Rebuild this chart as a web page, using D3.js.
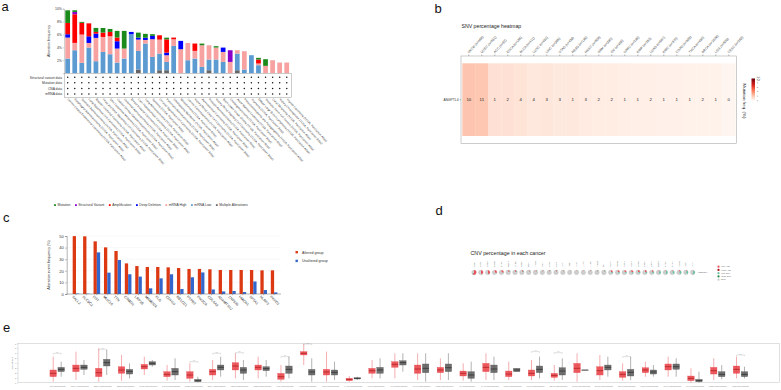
<!DOCTYPE html>
<html>
<head>
<meta charset="utf-8">
<script src="https://cdn.jsdelivr.net/npm/d3@7"></script>
<style>
  body { margin: 0; background: #fff; }
  svg { font-family: "Liberation Sans", Arial, sans-serif; }
</style>
</head>
<body>
<svg id="fig" width="781" height="390"></svg>
<script>
// ---------- panel a : alteration frequency across studies ----------
const studies = [
  "Uterine Corpus Endometrial Carcinoma (TCGA, PanCancer Atlas)",
  "Esophageal Adenocarcinoma (TCGA, PanCancer Atlas)",
  "Stomach Adenocarcinoma (TCGA, PanCancer Atlas)",
  "Lung Squamous Cell Carcinoma (TCGA, PanCancer Atlas)",
  "Bladder Urothelial Carcinoma (TCGA, PanCancer Atlas)",
  "Head and Neck Squamous Cell Carcinoma (TCGA, PanCancer Atlas)",
  "Skin Cutaneous Melanoma (TCGA, PanCancer Atlas)",
  "Ovarian Serous Cystadenocarcinoma (TCGA, PanCancer Atlas)",
  "Colorectal Adenocarcinoma (TCGA, PanCancer Atlas)",
  "Breast Invasive Carcinoma (TCGA, PanCancer Atlas)",
  "Liver Hepatocellular Carcinoma (TCGA, PanCancer Atlas)",
  "Lung Adenocarcinoma (TCGA, PanCancer Atlas)",
  "Sarcoma (TCGA, PanCancer Atlas)",
  "Cervical Squamous Cell Carcinoma (TCGA, PanCancer Atlas)",
  "Pancreatic Adenocarcinoma (TCGA, PanCancer Atlas)",
  "Glioblastoma Multiforme (TCGA, PanCancer Atlas)",
  "Mesothelioma (TCGA, PanCancer Atlas)",
  "Uterine Carcinosarcoma (TCGA, PanCancer Atlas)",
  "Kidney Renal Clear Cell Carcinoma (TCGA, PanCancer Atlas)",
  "Adrenocortical Carcinoma (TCGA, PanCancer Atlas)",
  "Prostate Adenocarcinoma (TCGA, PanCancer Atlas)",
  "Kidney Renal Papillary Cell Carcinoma (TCGA, PanCancer Atlas)",
  "Brain Lower Grade Glioma (TCGA, PanCancer Atlas)",
  "Cholangiocarcinoma (TCGA, PanCancer Atlas)",
  "Acute Myeloid Leukemia (TCGA, PanCancer Atlas)",
  "Pheochromocytoma and Paraganglioma (TCGA, PanCancer Atlas)",
  "Thymoma (TCGA, PanCancer Atlas)",
  "Diffuse Large B-Cell Lymphoma (TCGA, PanCancer Atlas)",
  "Testicular Germ Cell Tumors (TCGA, PanCancer Atlas)",
  "Uveal Melanoma (TCGA, PanCancer Atlas)",
  "Kidney Chromophobe (TCGA, PanCancer Atlas)",
  "Thyroid Carcinoma (TCGA, PanCancer Atlas)"
];
const multipleAlt  = [0,0,0,0,0,0,0,0,0,0,0.57,0,0,0.46,0.46,0,0,0,0,0,0.46,0,0,0,0.46,0,0,0,0,0,0,0];
const mrnaLow      = [2.27,3.56,1.6,3.97,1.86,3.3,2.94,1.65,2.27,6.04,2.89,4.6,2.53,2.58,1.29,4.23,0,2.01,2.27,0.98,1.65,2.12,1.75,0,2.58,0.57,2.79,1.24,0,0,0,0];
const mrnaHigh     = [3.25,1.14,4.39,0.72,3.61,2.32,2.79,2.17,1.55,0,1.75,0.55,2.74,2.17,1.03,1.03,3.72,2.68,1.19,3.35,2.22,1.86,1.55,1.75,0.52,2.84,0,0.26,1.14,2.01,1.65,1.65];
const deepDeletion = [0.52,0,0,1.03,0.67,0,0,1.14,0,0.36,0.31,0.35,0.52,0,0.41,0,1.29,0,0,0,0,0,0.67,0,0,0,0,0,0,0,0,0];
const amplification= [1.75,4.44,1.81,2.01,0.26,0.67,0.67,0.57,0,0,0,0,0,0.67,2.06,0.26,0,0,1.14,0,0,0,0,0,0,0,0,0.62,0,0,0,0];
const structural   = [0,0.36,0,0,0,0,0,0,0,0,0,0,0,0,0,0,0,0,0,0,0,0,0,1.81,0,0,0,0,0,0,0,0];
const mutation     = [1.96,0.26,0.15,0,0.62,0.72,0.46,1.03,2.74,0,0.77,0.6,0.26,0,0.26,0,0,0,0,0.26,0,0.21,0,0,0,0,0,0.26,1.03,0,0,0];
const aTicks = [2, 4, 6, 8, 10];
const dataRows = ["Structural variant data", "Mutation data", "CNA data", "mRNA data"];
const aLegend = ["Mutation", "Structural Variant", "Amplification", "Deep Deletion", "mRNA High", "mRNA Low", "Multiple Alterations"];

// ---------- panel b : SNV percentage heatmap ----------
const snvCancers = ["SKCM","UCEC","ACC","ESCA","BLCA","LUSC","LIHC","STAD","READ","HNSC","GBM",
                    "OV","SARC","KIRP","LUAD","KIRC","COAD","THCA","BRCA","LGG","CESC"];
const snvN      = [468,531,92,185,411,492,365,439,136,508,390,409,236,282,567,370,399,490,1026,509,289];
const snvCount  = [10,11,1,2,4,4,3,3,1,3,2,2,1,1,2,1,1,1,2,1,0];
const snvTicks  = [0, 2, 4, 6, 8, 10];

// ---------- panel c : altered vs unaltered group ----------
const genes     = ["SALL2","SLC9C2","DST","MUC16","TTN","CSMD3","LRP1B","MAMDC4","FLG","CDH10",
                   "RB1CC1","PTPRT","PIK3CA","COL6A3","ADAMTS12","ZNF536","HMCN1","SPTA1","NLRP3","PKHD1"];
const altered   = [49.9,49.7,45.4,40.2,37.1,26.4,24.1,23.3,23.3,23.0,22.4,21.6,21.6,21.3,20.7,20.7,20.7,20.7,20.4,20.4];
const unaltered = [0.4,0.3,35.9,18.4,29.3,17.0,15.0,4.9,13.5,17.0,4.3,14.4,18.6,3.9,2.2,2.6,1.7,10.8,3.4,1.4];
const cTicks    = [0, 10, 20, 30, 40, 50];

// ---------- panel d : CNV pies ----------
const cnvCancers = ["ACC","BLCA","BRCA","CESC","CHOL","COAD","DLBC","ESCA","GBM","HNSC","KICH","KIRC","KIRP",
                    "LAML","LGG","LIHC","LUAD","LUSC","MESO","OV","PAAD","PCPG","PRAD","READ","SARC","SKCM",
                    "STAD","TGCT","THCA","THYM","UCEC","UCS","UVM"];
const heteAmp = [55,42,40,28,26,14,12,12,10,10,8,8,8,8,7,7,6,6,6,8,20,22,20,22,18,18,16,10,8,6,10,8,6];
const homoAmp = [5,3,3,2,2,1,1,1,1,1,1,1,0,0,0,0,0,1,0,0,1,1,1,1,1,1,1,0,0,0,0,0,0];
const heteDel = [6,5,6,5,6,8,8,8,8,6,6,6,6,6,6,6,6,6,8,10,12,12,14,14,16,16,18,30,32,32,30,30,34];
const homoDel = [1,0,1,0,0,0,1,0,0,0,0,0,0,0,0,0,0,0,0,0,1,1,1,1,1,1,2,2,3,2,2,2,4];
const cnvLegend = ["Hete. Amp", "Homo. Amp", "Hete. Dele", "Homo. Dele", "None"];

// ---------- panel e : expression tumour vs normal ----------
const exprCancers = ["ACC","BLCA","BRCA","CESC","CHOL","COAD","DLBC","ESCA","GBM","HNSC","KICH","KIRC","KIRP",
                     "LAML","LGG","LIHC","LUAD","LUSC","OV","PAAD","PCPG","PRAD","READ","SARC","SKCM","STAD",
                     "TGCT","THCA","THYM","UCEC","UCS"];
const tMin = [0.2,0.54,0.2,0.41,1.56,0.41,0.2,0.54,0.88,0.88,0.2,3.59,0.2,0.2,0.88,0.88,0.54,0.54,0.41,0.54,0.54,0.54,0.41,0.2,0.54,0.41,1.22,1.22,0.07,0.54,0.88];
const tQ1  = [1.22,2.24,1.22,1.9,2.78,1.22,0.88,1.56,2.58,2.58,0.68,5.63,1.56,0.41,1.9,3.12,1.9,2.03,1.36,2.24,1.22,1.36,1.08,2.03,1.56,1.08,2.03,2.58,0.41,1.76,1.9];
const tMed = [1.9,2.92,2.03,2.58,3.25,1.69,1.56,2.24,3.39,3.12,1.22,5.97,2.17,0.68,2.44,3.73,2.78,2.58,1.9,3.12,1.76,1.9,1.49,2.92,2.44,1.69,2.58,3.25,0.88,2.44,2.71];
const tQ3  = [2.58,3.59,2.92,3.25,3.73,2.24,2.24,2.71,4.07,3.59,1.9,6.31,2.71,0.88,2.92,4.27,3.59,3.12,2.37,3.93,2.37,2.58,1.9,3.93,3.25,2.24,3.05,3.8,1.36,3.12,3.39];
const tMax = [5.29,6.31,6.98,5.63,5.29,3.59,3.93,4.61,5.97,5.29,3.59,7.9,6.31,1.36,4.61,5.97,5.97,4.95,3.93,5.97,4.27,4.61,3.59,5.97,5.63,3.93,4.27,5.29,2.92,4.95,5.29];
const nMin = [1.22,1.56,1.56,0.88,3.25,0.54,0.07,1.22,0.54,1.22,0.88,0.2,0.54,0.54,0.88,2.24,0.2,0.54,0.2,0.54,2.24,0.88,0.54,2.58,1.22,0.54,1.22,1.22,0,0.68,0.88];
const nQ1  = [2.24,2.71,3.39,1.76,3.59,1.56,0.2,2.58,1.9,2.44,1.9,1.56,1.56,0.75,1.9,3.59,2.03,2.24,0.88,2.03,2.24,2.03,1.56,2.58,2.58,1.36,1.76,2.71,0.2,1.22,1.22];
const nMed = [2.71,3.12,4.07,2.31,3.93,2.24,0.41,3.12,2.58,2.85,2.71,2.17,2.1,0.88,2.58,4.07,2.92,3.05,1.56,2.78,2.58,2.71,2.37,2.58,3.12,2.1,2.17,3.25,0.41,1.69,1.69];
const nQ3  = [3.12,3.59,4.75,2.71,4.27,2.92,0.68,3.59,3.12,3.25,3.39,2.71,2.58,1.02,3.12,4.47,3.8,3.8,2.24,3.59,2.92,3.39,3.05,2.58,3.59,2.71,2.58,3.8,0.68,2.24,2.24];
const nMax = [4.27,4.61,6.64,3.93,4.61,4.95,1.22,5.29,4.61,4.61,5.29,4.95,4.27,1.22,4.95,5.97,5.97,5.97,4.27,5.29,2.92,5.29,4.95,2.58,5.29,5.29,3.59,4.95,2.24,3.59,3.25];
const sigCancers = ["ACC","BRCA","DLBC","ESCA","GBM","KICH","KIRC","PRAD","READ","STAD","UCS"];
const sigLevel   = [5.97,6.78,4.27,5.97,6.10,5.29,7.86,6.31,6.10,5.29,5.63];
const eTicks = [0, 1, 2, 3, 4, 5, 6, 7, 8];

const svg = d3.select("#fig");
const ink = "#333";

// panel letters
[["a", 1.5, 10.5], ["b", 434.5, 12.5], ["c", 3, 221.5], ["d", 435.5, 215], ["e", 3, 331.5]]
  .forEach(([t, x, y]) => svg.append("text").attr("x", x).attr("y", y)
    .attr("font-size", 13).attr("fill", "#111").text(t));

// ================= panel a =================
{
  const g = svg.append("g");
  const colors = {
    mutation: "#1a8a1a", structural: "#8b00c9", amplification: "#ff0000",
    deepDeletion: "#0000ff", mrnaHigh: "#f7a1a1", mrnaLow: "#5c9bd1", multipleAlt: "#666666"
  };
  const keys = ["multipleAlt", "mrnaLow", "mrnaHigh", "deepDeletion", "amplification", "structural", "mutation"];
  const series = { multipleAlt, mrnaLow, mrnaHigh, deepDeletion, amplification, structural, mutation };
  const rows = studies.map((s, i) => {
    const r = { study: s };
    keys.forEach(k => r[k] = series[k][i]);
    return r;
  });
  const stacked = d3.stack().keys(keys)(rows);

  const x = d3.scaleBand().domain(studies).range([64.1, 290.3]).paddingInner(0.33).paddingOuter(0.17);
  const y = d3.scaleLinear().domain([0, 10]).range([73.2, 8.7]);

  g.selectAll("g.layer")
    .data(stacked)
    .join("g")
    .attr("class", "layer")
    .attr("fill", d => colors[d.key])
    .selectAll("rect")
    .data(d => d)
    .join("rect")
    .attr("x", d => x(d.data.study))
    .attr("width", x.bandwidth())
    .attr("y", d => y(d[1]))
    .attr("height", d => y(d[0]) - y(d[1]));

  const ax = g.append("g")
    .attr("transform", "translate(64,0)")
    .call(d3.axisLeft(y).tickValues(aTicks).tickFormat(d => d + "%").tickSize(1.2).tickPadding(1));
  ax.select(".domain").attr("stroke", "#888").attr("stroke-width", 0.4);
  ax.selectAll(".tick line").attr("stroke", "#888").attr("stroke-width", 0.4);
  ax.selectAll("text").attr("font-size", 3.4).attr("fill", ink);

  g.append("text")
    .attr("transform", `translate(50,${y(5)}) rotate(-90)`)
    .attr("text-anchor", "middle").attr("font-size", 3.6).attr("fill", ink)
    .text("Alteration frequency");

  // data availability matrix
  const ry = d3.scalePoint().domain(dataRows).range([77.3, 94]);
  g.append("rect").attr("x", 64.5).attr("y", 73.3).attr("width", 227).attr("height", 24)
    .attr("fill", "none").attr("stroke", "#999").attr("stroke-width", 0.5);
  g.selectAll("text.row").data(dataRows).join("text").attr("class", "row")
    .attr("x", 62).attr("y", d => ry(d) + 1.2).attr("text-anchor", "end")
    .attr("font-size", 3.3).attr("fill", ink).text(d => d);
  dataRows.forEach(r => {
    g.selectAll(null).data(studies).join("circle")
      .attr("cx", d => x(d) + x.bandwidth() / 2).attr("cy", ry(r)).attr("r", 0.75).attr("fill", "#111");
  });

  // rotated study names
  g.selectAll("text.study").data(studies).join("text").attr("class", "study")
    .attr("transform", d => `translate(${x(d) + x.bandwidth() / 2 - 0.5},99.5) rotate(47)`)
    .attr("font-size", 2.9).attr("fill", ink).text(d => d);

  // legend
  const leg = g.append("g").attr("transform", "translate(55,206.5)");
  const legColors = [colors.mutation, colors.structural, colors.amplification, colors.deepDeletion,
                     colors.mrnaHigh, colors.mrnaLow, colors.multipleAlt];
  let cx = 0;
  aLegend.forEach((t, i) => {
    leg.append("rect").attr("x", cx - 0.9).attr("y", -2.3).attr("width", 1.8).attr("height", 1.8)
      .attr("fill", legColors[i]);
    const tx = leg.append("text").attr("x", cx + 2.4).attr("y", -0.3).attr("font-size", 3.4)
      .attr("fill", ink).text(t);
    cx += 2.4 + tx.node().getComputedTextLength() + 5.5;
  });
}

// ================= panel b =================
{
  const g = svg.append("g");
  const pct = snvCount.map((c, i) => c / snvN[i] * 100);
  const x = d3.scaleBand().domain(snvCancers).range([462.3, 735.3]);
  const color = d3.scaleSequential(d3.interpolateReds).domain([0, 10]);

  g.append("text").attr("x", 461.5).attr("y", 27.5).attr("font-size", 5.2).attr("fill", "#222")
    .text("SNV percentage heatmap");

  g.append("rect").attr("x", 461).attr("y", 56).attr("width", 275.5).attr("height", 87.3)
    .attr("fill", "#fff").attr("stroke", "#aaa").attr("stroke-width", 0.6);

  g.selectAll("rect.cell").data(snvCancers).join("rect").attr("class", "cell")
    .attr("x", d => x(d)).attr("width", x.bandwidth() + 0.3)
    .attr("y", 63.3).attr("height", 72.7)
    .attr("fill", (d, i) => color(pct[i]));

  g.selectAll("text.num").data(snvCount).join("text").attr("class", "num")
    .attr("x", (d, i) => x(snvCancers[i]) + x.bandwidth() / 2).attr("y", 101.2)
    .attr("text-anchor", "middle").attr("font-size", 4.3).attr("fill", "#222").text(d => d);

  // column labels on top
  g.selectAll("line.tk").data(snvCancers).join("line").attr("class", "tk")
    .attr("x1", d => x(d) + x.bandwidth() / 2).attr("x2", d => x(d) + x.bandwidth() / 2)
    .attr("y1", 54.5).attr("y2", 56).attr("stroke", "#555").attr("stroke-width", 0.4);
  g.selectAll("text.col").data(snvCancers).join("text").attr("class", "col")
    .attr("transform", d => `translate(${x(d) + x.bandwidth() / 2 + 0.3},53.5) rotate(-48)`)
    .attr("font-size", 3.3).attr("fill", ink)
    .text((d, i) => `${d} (n=${snvN[i]})`);

  // row label
  g.append("line").attr("x1", 459.5).attr("x2", 461).attr("y1", 99.7).attr("y2", 99.7)
    .attr("stroke", "#555").attr("stroke-width", 0.4);
  g.append("text").attr("x", 458.5).attr("y", 100.8).attr("text-anchor", "end")
    .attr("font-size", 3.3).attr("fill", ink).text("ANGPTL4");

  // colour legend
  const ly = d3.scaleLinear().domain([0, 10]).range([100.5, 78.5]);
  const defs = svg.append("defs");
  const grad = defs.append("linearGradient").attr("id", "snvGrad")
    .attr("x1", 0).attr("y1", 1).attr("x2", 0).attr("y2", 0);
  d3.range(0, 1.01, 0.1).forEach(t => grad.append("stop")
    .attr("offset", t).attr("stop-color", color(t * 10)));
  g.append("rect").attr("x", 751.5).attr("y", ly(10)).attr("width", 3.5).attr("height", ly(0) - ly(10))
    .attr("fill", "url(#snvGrad)");
  g.selectAll("text.lt").data(snvTicks).join("text").attr("class", "lt")
    .attr("transform", d => `translate(756.5,${ly(d)}) rotate(90)`)
    .attr("text-anchor", "middle").attr("font-size", d => d === 10 ? 4 : 2.2).attr("fill", ink)
    .text(d => d);
  g.append("text").attr("transform", "translate(743,101) rotate(90)")
    .attr("text-anchor", "middle").attr("font-size", 4.4).attr("fill", "#222")
    .text("Mutation freq. (%)");
}

// ================= panel c =================
{
  const g = svg.append("g");
  const x = d3.scaleBand().domain(genes).range([70.6, 279.5]).paddingInner(0.367).paddingOuter(0.2);
  const sub = d3.scaleBand().domain(["altered", "unaltered"]).range([0, x.bandwidth()]);
  const y = d3.scaleLinear().domain([0, 50]).range([294, 236]);

  g.selectAll("line.grid").data(cTicks.slice(1)).join("line").attr("class", "grid")
    .attr("x1", 67).attr("x2", 281).attr("y1", d => y(d)).attr("y2", d => y(d))
    .attr("stroke", "#eee").attr("stroke-width", 0.4);

  g.selectAll("rect.alt").data(altered).join("rect").attr("class", "alt")
    .attr("x", (d, i) => x(genes[i]) + sub("altered")).attr("width", sub.bandwidth())
    .attr("y", d => y(d)).attr("height", d => y(0) - y(d)).attr("fill", "#dc3912");
  g.selectAll("rect.unalt").data(unaltered).join("rect").attr("class", "unalt")
    .attr("x", (d, i) => x(genes[i]) + sub("unaltered")).attr("width", sub.bandwidth())
    .attr("y", d => y(d)).attr("height", d => y(0) - y(d)).attr("fill", "#3366cc");

  const ay = g.append("g").attr("transform", "translate(66.7,0)")
    .call(d3.axisLeft(y).tickValues(cTicks).tickSize(1.5).tickPadding(1.5));
  ay.select(".domain").attr("stroke", "#666").attr("stroke-width", 0.5);
  ay.selectAll(".tick line").attr("stroke", "#666").attr("stroke-width", 0.5);
  ay.selectAll("text").attr("font-size", 4).attr("fill", ink);

  const axb = g.append("g").attr("transform", "translate(0,294)")
    .call(d3.axisBottom(x).tickSize(1.2).tickFormat(""));
  axb.select(".domain").attr("stroke", "#666").attr("stroke-width", 0.5)
    .attr("d", "M66.7,0H281");
  axb.selectAll(".tick line").attr("stroke", "#666").attr("stroke-width", 0.5);

  g.selectAll("text.gene").data(genes).join("text").attr("class", "gene")
    .attr("transform", d => `translate(${x(d) - 1},297) rotate(45)`)
    .attr("font-size", 3.6).attr("fill", ink).text(d => d);

  g.append("text").attr("transform", `translate(50,${y(25)}) rotate(-90)`)
    .attr("text-anchor", "middle").attr("font-size", 3.7).attr("fill", ink)
    .text("Alteration event frequency (%)");

  [["Altered group", "#dc3912", 252.3], ["Unaltered group", "#3366cc", 261]].forEach(([t, c, yy]) => {
    g.append("rect").attr("x", 295.5).attr("y", yy - 1.3).attr("width", 2.4).attr("height", 2.4).attr("fill", c);
    g.append("text").attr("x", 302).attr("y", yy + 1.2).attr("font-size", 3.6).attr("fill", ink).text(t);
  });
}

// ================= panel d =================
{
  const g = svg.append("g");
  const cols = ["#e8505b", "#a50f15", "#6cc2a4", "#238b45", "#cccccc"];
  const x = d3.scalePoint().domain(cnvCancers).range([474, 692.7]);
  const pie = d3.pie().sort(null);
  const arc = d3.arc().innerRadius(0).outerRadius(2.4);

  g.append("text").attr("x", 470.5).attr("y", 254.5).attr("font-size", 5.3).attr("fill", "#222")
    .text("CNV percentage in each cancer");

  cnvCancers.forEach((c, i) => {
    const none = 100 - heteAmp[i] - homoAmp[i] - heteDel[i] - homoDel[i];
    const vals = [heteAmp[i], homoAmp[i], heteDel[i], homoDel[i], none];
    const pg = g.append("g").attr("transform", `translate(${x(c)},272.4)`);
    pg.selectAll("path").data(pie(vals)).join("path")
      .attr("d", arc).attr("fill", (d, j) => cols[j]);
    pg.append("circle").attr("r", 2.4).attr("fill", "none").attr("stroke", "#bbb").attr("stroke-width", 0.2);
    g.append("text").attr("transform", `translate(${x(c) + 0.6},267) rotate(-90)`)
      .attr("font-size", 2.1).attr("fill", "#555").text(c);
  });
  g.append("text").attr("x", 697.5).attr("y", 273).attr("font-size", 2.2).attr("fill", "#555").text("ANGPTL4");

  const ly = d3.scalePoint().domain(cnvLegend).range([266.7, 279.7]);
  cnvLegend.forEach((t, j) => {
    g.append("circle").attr("cx", 718.5).attr("cy", ly(t)).attr("r", 1.1).attr("fill", cols[j]);
    g.append("text").attr("x", 721).attr("y", ly(t) + 0.7).attr("font-size", 1.9).attr("fill", "#555").text(t);
  });
}

// ================= panel e =================
{
  const g = svg.append("g");
  const x = d3.scaleBand().domain(exprCancers).range([45.8, 751.9]);
  const sub = d3.scaleBand().domain(["Tumor", "Normal"]).range([4.14, 18.64]).paddingInner(0.1875);
  const y = d3.scaleLinear().domain([0, 8]).range([382.7, 343.3]);

  g.append("rect").attr("x", 18).attr("y", 343.3).attr("width", 761.5).attr("height", 39.4)
    .attr("fill", "#fff").attr("stroke", "#ccc").attr("stroke-width", 0.6);

  const ay = g.append("g").attr("transform", "translate(18,0)")
    .call(d3.axisLeft(y).tickValues(eTicks).tickSize(1).tickPadding(0.8));
  ay.select(".domain").remove();
  ay.selectAll(".tick line").attr("stroke", "#999").attr("stroke-width", 0.3);
  ay.selectAll("text").attr("font-size", 2.2).attr("fill", "#777");
  g.append("text").attr("transform", `translate(12.5,${y(4)}) rotate(-90)`)
    .attr("text-anchor", "middle").attr("font-size", 2.2).attr("fill", "#777").text("log2(TPM+1)");

  const groups = [
    { key: "Tumor", fill: "#e9474c", line: "#e9474c", med: "#8b0000", q: [tMin, tQ1, tMed, tQ3, tMax] },
    { key: "Normal", fill: "#5f5f5f", line: "#555", med: "#111", q: [nMin, nQ1, nMed, nQ3, nMax] }
  ];
  groups.forEach(gr => {
    const bw = sub.bandwidth();
    const cxOf = c => x(c) + sub(gr.key) + bw / 2;
    g.selectAll(null).data(exprCancers).join("line")
      .attr("x1", cxOf).attr("x2", cxOf)
      .attr("y1", (c, i) => y(gr.q[0][i])).attr("y2", (c, i) => y(gr.q[4][i]))
      .attr("stroke", gr.line).attr("stroke-width", 0.45);
    g.selectAll(null).data(exprCancers).join("rect")
      .attr("x", c => x(c) + sub(gr.key)).attr("width", bw)
      .attr("y", (c, i) => y(gr.q[3][i])).attr("height", (c, i) => Math.max(0.3, y(gr.q[1][i]) - y(gr.q[3][i])))
      .attr("fill", gr.fill).attr("fill-opacity", 0.9).attr("stroke", gr.line).attr("stroke-width", 0.3);
    g.selectAll(null).data(exprCancers).join("line")
      .attr("x1", c => x(c) + sub(gr.key)).attr("x2", c => x(c) + sub(gr.key) + bw)
      .attr("y1", (c, i) => y(gr.q[2][i])).attr("y2", (c, i) => y(gr.q[2][i]))
      .attr("stroke", gr.med).attr("stroke-width", 0.5);
  });

  // significance brackets
  sigCancers.forEach((c, i) => {
    const x1 = x(c) + sub("Tumor") + sub.bandwidth() / 2;
    const x2 = x(c) + sub("Normal") + sub.bandwidth() / 2;
    const yy = y(sigLevel[i]);
    g.append("path").attr("d", `M${x1},${yy + 1.2}V${yy}H${x2}V${yy + 1.2}`)
      .attr("fill", "none").attr("stroke", "#999").attr("stroke-width", 0.3);
    g.append("text").attr("x", (x1 + x2) / 2).attr("y", yy - 0.4).attr("text-anchor", "middle")
      .attr("font-size", 2).attr("fill", "#777").text("***");
  });

  g.selectAll("text.xl").data(exprCancers).join("text").attr("class", "xl")
    .attr("x", c => x(c) + x.bandwidth() / 2).attr("y", 387.3).attr("text-anchor", "middle")
    .attr("font-size", 1.9).attr("fill", "#888").text(c => `${c} Tumor/Normal`);
}
</script>
</body>
</html>
